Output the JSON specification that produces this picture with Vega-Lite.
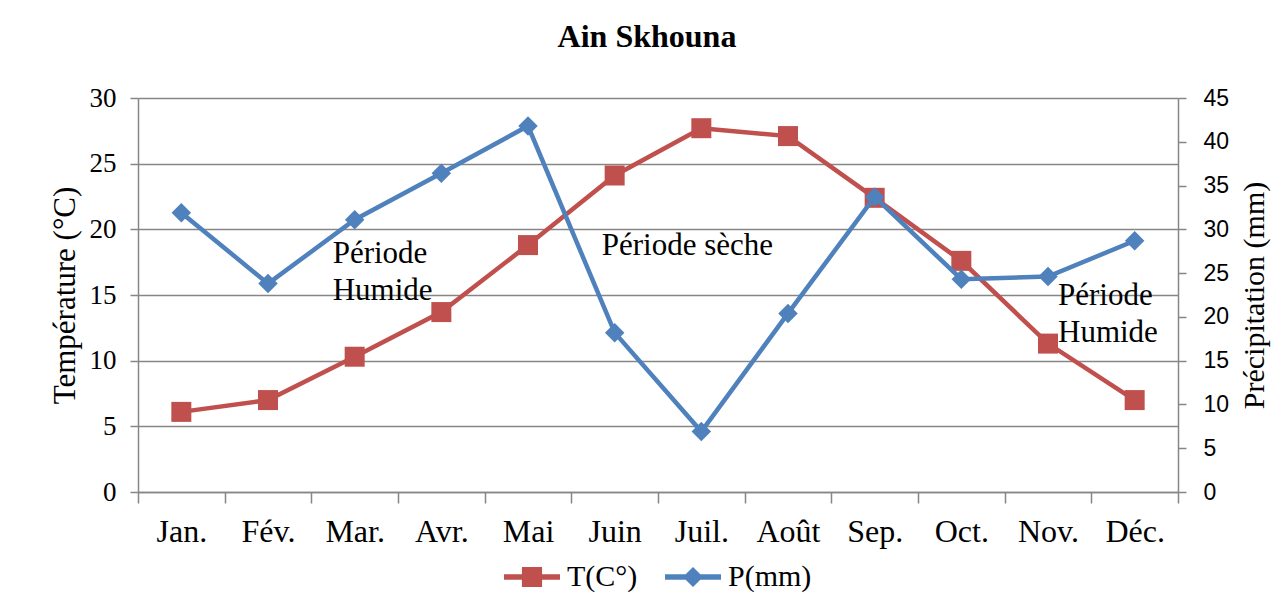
{
  "$schema": "https://vega.github.io/schema/vega-lite/v6.json",
  "width": 1040,
  "height": 394,
  "autosize": {"type": "none"},
  "padding": {"left": 138, "top": 98, "right": 94, "bottom": 117},
  "background": "white",
  "title": {"text": "Ain Skhouna", "font": "Liberation Serif", "fontSize": 32, "fontWeight": "bold", "color": "black", "anchor": "middle", "frame": "group", "offset": 30, "dx": -11},
  "config": {"view": {"stroke": null}, "font": "Liberation Serif", "legend": {"layout": {"bottom": {"anchor": "middle"}}}},
  "datasets": {
    "climat": [
      {"mois": "Jan.", "T": 6.1, "P": 31.9},
      {"mois": "Fév.", "T": 7.0, "P": 23.8},
      {"mois": "Mar.", "T": 10.3, "P": 31.1},
      {"mois": "Avr.", "T": 13.7, "P": 36.4},
      {"mois": "Mai", "T": 18.8, "P": 41.8},
      {"mois": "Juin", "T": 24.1, "P": 18.2},
      {"mois": "Juil.", "T": 27.7, "P": 6.9},
      {"mois": "Août", "T": 27.1, "P": 20.4},
      {"mois": "Sep.", "T": 22.4, "P": 33.7},
      {"mois": "Oct.", "T": 17.6, "P": 24.3},
      {"mois": "Nov.", "T": 11.3, "P": 24.6},
      {"mois": "Déc.", "T": 7.0, "P": 28.7}
    ],
    "notes": [
      {"mois": "Mar.", "T": 17.44, "texte": "Période", "groupe": "a"},
      {"mois": "Mar.", "T": 14.62, "texte": "Humide", "groupe": "a"},
      {"mois": "Juil.", "T": 18.05, "texte": "Période sèche", "groupe": "b"},
      {"mois": "Nov.", "T": 14.24, "texte": "Période", "groupe": "c"},
      {"mois": "Nov.", "T": 11.42, "texte": "Humide", "groupe": "c"}
    ]
  },
  "data": {"name": "climat"},
  "encoding": {
    "x": {
      "field": "mois",
      "type": "nominal",
      "scale": {"domain": ["Jan.", "Fév.", "Mar.", "Avr.", "Mai", "Juin", "Juil.", "Août", "Sep.", "Oct.", "Nov.", "Déc."], "paddingInner": 0, "paddingOuter": 0},
      "axis": {"title": null, "labelAngle": 0, "labelFont": "Liberation Serif", "labelFontSize": 32, "labelColor": "black", "tickBand": "extent", "tickSize": 11, "tickColor": "#868686", "tickWidth": 1.5, "domainColor": "#868686", "domainWidth": 1.5, "labelPadding": 13, "grid": false}
    }
  },
  "layer": [
    {
      "encoding": {
        "y": {
          "field": "T",
          "type": "quantitative",
          "scale": {"domain": [0, 30], "nice": false, "zero": true},
          "axis": {
            "orient": "left",
            "values": [0, 5, 10, 15, 20, 25, 30],
            "grid": true,
            "gridColor": "#868686",
            "gridWidth": 1.5,
            "tickSize": 8,
            "tickColor": "#868686",
            "tickWidth": 1.5,
            "domainColor": "#868686",
            "domainWidth": 1.5,
            "labelFont": "Liberation Serif",
            "labelFontSize": 27,
            "labelColor": "black",
            "labelPadding": 14,
            "title": "Température (°C)",
            "titleFont": "Liberation Serif",
            "titleFontSize": 31,
            "titleFontWeight": "normal",
            "titleColor": "black",
            "titlePadding": 8
          }
        }
      },
      "layer": [
        {"mark": {"type": "line", "color": "#C0504D", "strokeWidth": 4.5}},
        {
          "mark": {"type": "point", "shape": "square", "filled": true, "size": 400, "opacity": 1},
          "encoding": {
            "color": {
              "datum": "T(C°)",
              "type": "nominal",
              "scale": {"domain": ["T(C°)", "P(mm)"], "range": ["#C0504D", "#4F81BD"]},
              "legend": {
                "orient": "bottom",
                "title": null,
                "direction": "horizontal",
                "labelFont": "Liberation Serif",
                "labelFontSize": 30,
                "labelColor": "black",
                "symbolSize": 3136,
                "labelOffset": 7,
                "columnPadding": 27,
                "offset": 2,
                "symbolStrokeWidth": 0,
                "symbolOpacity": 1,
                "encode": {
                  "symbols": {
                    "update": {
                      "shape": {"signal": "datum.value == 'T(C°)' ? 'M-1,-0.1H1V0.1H-1Z M-0.36,-0.36H0.36V0.36H-0.36Z' : 'M-1,-0.1H1V0.1H-1Z M0,-0.36L0.36,0L0,0.36L-0.36,0Z'"}
                    }
                  }
                }
              }
            }
          }
        },
        {
          "data": {"name": "notes"},
          "transform": [{"filter": "datum.groupe == 'a'"}],
          "mark": {"type": "text", "align": "left", "baseline": "alphabetic", "dx": -22, "fontSize": 31, "font": "Liberation Serif", "color": "black"},
          "encoding": {"text": {"field": "texte"}}
        },
        {
          "data": {"name": "notes"},
          "transform": [{"filter": "datum.groupe == 'b'"}],
          "mark": {"type": "text", "align": "center", "baseline": "alphabetic", "dx": -14, "fontSize": 31, "font": "Liberation Serif", "color": "black"},
          "encoding": {"text": {"field": "texte"}}
        },
        {
          "data": {"name": "notes"},
          "transform": [{"filter": "datum.groupe == 'c'"}],
          "mark": {"type": "text", "align": "left", "baseline": "alphabetic", "dx": 10, "fontSize": 31, "font": "Liberation Serif", "color": "black"},
          "encoding": {"text": {"field": "texte"}}
        }
      ]
    },
    {
      "encoding": {
        "y": {
          "field": "P",
          "type": "quantitative",
          "scale": {"domain": [0, 45], "nice": false, "zero": true},
          "axis": {
            "orient": "right",
            "values": [0, 5, 10, 15, 20, 25, 30, 35, 40, 45],
            "grid": false,
            "tickSize": 8,
            "tickColor": "#868686",
            "tickWidth": 1.5,
            "domainColor": "#868686",
            "domainWidth": 1.5,
            "labelFont": "Liberation Sans",
            "labelFontSize": 23,
            "labelColor": "black",
            "labelPadding": 17,
            "title": "Précipitation (mm)",
            "titleFont": "Liberation Serif",
            "titleFontSize": 30,
            "titleFontWeight": "normal",
            "titleColor": "black",
            "titleAngle": 270,
            "titleBaseline": "top",
            "titlePadding": 11
          }
        }
      },
      "layer": [
        {"mark": {"type": "line", "color": "#4F81BD", "strokeWidth": 4.5}},
        {
          "mark": {"type": "point", "shape": "diamond", "filled": true, "size": 380, "opacity": 1},
          "encoding": {
            "color": {"datum": "P(mm)", "type": "nominal"}
          }
        }
      ]
    }
  ],
  "resolve": {"scale": {"y": "independent"}}
}
